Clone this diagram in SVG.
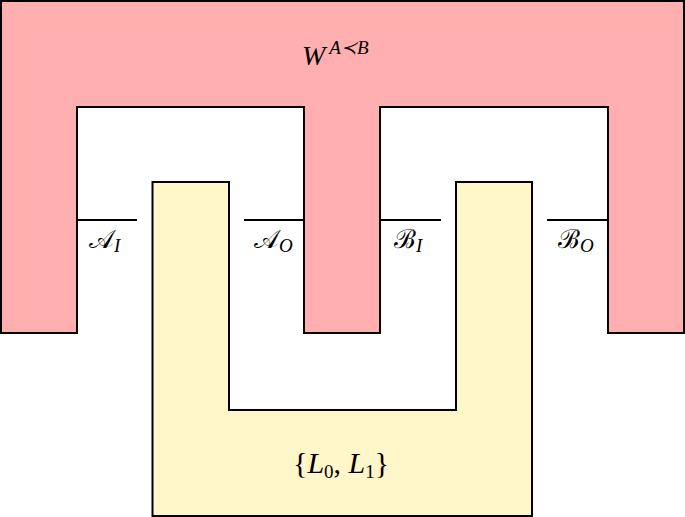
<svg xmlns="http://www.w3.org/2000/svg" width="685" height="517" viewBox="0 0 685 517">
<style>
.shape{stroke:#000;stroke-width:2;stroke-linejoin:miter}
.pink{fill:#FFAFB0}
.yellow{fill:#FFF6C9}
.port{stroke:#000;stroke-width:2;fill:none}
.lbl{font-family:"Liberation Serif","DejaVu Serif",serif;font-size:28px;fill:#000}
.it{font-style:italic}
.sub{font-size:19px}
.scr{font-size:26px}
</style>
<rect width="685" height="517" fill="#fff"/>
<g id="W">
<path class="shape pink" d="M1,1 H684 V333 H608 V107 H380 V333 H304 V107 H77 V333 H1 Z"/>
<text class="lbl" x="302" y="65"><tspan class="it">W</tspan><tspan class="sub it" dx="4" dy="-11">A≺B</tspan></text>
</g>
<g id="L">
<path class="shape yellow" d="M152.5,182 H229 V410 H456 V182 H532 V516 H152.5 Z"/>
<text class="lbl" x="293" y="473" style="font-size:30px">{<tspan class="it">L</tspan><tspan class="sub" dy="5">0</tspan><tspan dy="-5">, </tspan><tspan class="it">L</tspan><tspan class="sub" dy="5">1</tspan><tspan dy="-5">}</tspan></text>
</g>
<g id="connectors">
<line class="port" x1="77" y1="220" x2="137" y2="220"/>
<line class="port" x1="244" y1="220" x2="304" y2="220"/>
<line class="port" x1="380" y1="220" x2="441" y2="220"/>
<line class="port" x1="547" y1="220" x2="608" y2="220"/>
</g>
<g id="ports">
<text class="lbl scr" x="89" y="248">𝒜<tspan class="sub it" dy="4">I</tspan></text>
<text class="lbl scr" x="254" y="248">𝒜<tspan class="sub it" dy="4">O</tspan></text>
<text class="lbl scr" x="394" y="248">ℬ<tspan class="sub it" dy="4">I</tspan></text>
<text class="lbl scr" x="558" y="248">ℬ<tspan class="sub it" dy="4">O</tspan></text>
</g>
</svg>
